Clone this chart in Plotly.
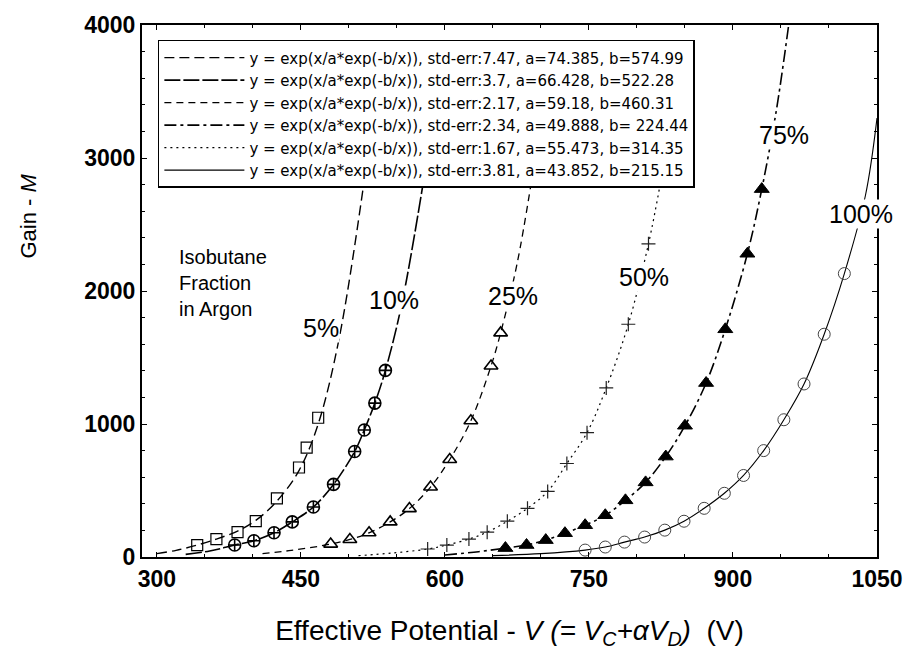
import plotly.graph_objects as go

# ---------------- data ----------------
fit_labels = [
    "y = exp(x/a*exp(-b/x)), std-err:7.47, a=74.385, b=574.99",
    "y = exp(x/a*exp(-b/x)), std-err:3.7, a=66.428, b=522.28",
    "y = exp(x/a*exp(-b/x)), std-err:2.17, a=59.18, b=460.31",
    "y = exp(x/a*exp(-b/x)), std-err:2.34, a=49.888, b= 224.44",
    "y = exp(x/a*exp(-b/x)), std-err:1.67, a=55.473, b=314.35",
    "y = exp(x/a*exp(-b/x)), std-err:3.81, a=43.852, b=215.15",
]

# measured points (V, M)
v5 = [342, 362, 384, 403, 425, 448, 456, 468]
m5 = [90, 135, 187, 269, 441, 673, 822, 1047]
v10 = [381, 401, 422, 441, 463, 484, 506, 516, 527, 538]
m10 = [90, 122, 182, 264, 376, 546, 793, 955, 1157, 1403]
v25 = [481, 501, 521, 543, 563, 585, 605, 627, 648, 658]
m25 = [97, 132, 182, 264, 364, 526, 733, 1024, 1436, 1685]
v50 = [582, 602, 625, 644, 665, 686, 707, 727, 748, 768, 791, 812]
m50 = [60, 90, 135, 187, 269, 366, 493, 703, 935, 1271, 1750, 2355]
v75 = [663, 685, 705, 725, 746, 767, 788, 809, 830, 850, 872, 892, 915, 930]
m75 = [67, 90, 127, 179, 239, 314, 426, 561, 755, 987, 1308, 1712, 2280, 2766]
v100 = [746, 767, 787, 808, 829, 849, 870, 891, 911, 932, 953, 974, 995, 1016]
m100 = [52, 75, 112, 150, 202, 269, 366, 479, 613, 800, 1032, 1301, 1675, 2131]

# fitted curves as traced on the picture (V, M)
cv5 = [300, 320, 342, 362, 384, 403, 425, 448, 468, 490, 516]
cm5 = [25, 50, 90, 135, 195, 275, 420, 650, 1000, 1650, 2834]
cv10 = [330, 355, 381, 401, 422, 441, 463, 484, 506, 516, 527, 538, 555, 578]
cm10 = [20, 45, 90, 122, 182, 264, 376, 546, 793, 955, 1157, 1403, 1900, 2841]
cv25 = [410, 440, 481, 501, 521, 543, 563, 585, 605, 627, 648, 658, 675, 690]
cm25 = [25, 50, 97, 132, 182, 264, 364, 526, 733, 1024, 1436, 1685, 2200, 2819]
cv50 = [510, 545, 582, 602, 625, 644, 665, 686, 707, 727, 748, 768, 791, 812, 825]
cm50 = [10, 30, 60, 90, 135, 187, 269, 366, 493, 703, 935, 1271, 1750, 2355, 2834]
cv75 = [600, 635, 663, 685, 705, 725, 746, 767, 788, 809, 830, 850, 872, 892, 915, 930, 945, 958]
cm75 = [15, 40, 67, 90, 127, 179, 239, 314, 426, 561, 755, 987, 1308, 1712, 2280, 2766, 3350, 4000]
cv100 = [650, 700, 746, 767, 787, 808, 829, 849, 870, 891, 911, 932, 953, 974, 995, 1016, 1038, 1050]
cm100 = [10, 25, 52, 75, 112, 150, 202, 269, 366, 479, 613, 800, 1032, 1301, 1675, 2131, 2720, 3300]

fractions = ["5%", "10%", "25%", "50%", "75%", "100%"]
label_pos_v = [471, 547, 671, 807, 953, 1033]
label_pos_m = [1720, 1936, 1959, 2108, 3170, 2579]

x_ticks = [300, 450, 600, 750, 900, 1050]
y_ticks = [0, 1000, 2000, 3000, 4000]

FONT = "Liberation Sans, Arial, sans-serif"

fig = go.Figure()

curves = [
    (cv5, cm5, fit_labels[0], "10px,5px", 1.4, 1),
    (cv10, cm10, fit_labels[1], "16px,3px", 1.6, 2),
    (cv25, cm25, fit_labels[2], "7px,5px", 1.3, 3),
    (cv75, cm75, fit_labels[3], "12px,4px,3px,4px", 1.6, 4),
    (cv50, cm50, fit_labels[4], "2px,4px", 1.2, 5),
    (cv100, cm100, fit_labels[5], "solid", 1.1, 6),
]
for cx, cy, name, dash, w, rank in curves:
    fig.add_trace(go.Scatter(
        x=cx, y=cy, mode="lines", name=name, legendrank=rank,
        line=dict(color="black", width=w, dash=dash, shape="spline", smoothing=1.0),
        hoverinfo="skip",
    ))

markers = [
    (v5, m5, "square-open", 11, "black", 1.2),
    (v10, m10, "circle-cross-open", 12, "black", 1.6),
    (v25, m25, "triangle-up-open", 12, "black", 1.6),
    (v50, m50, "cross-thin-open", 10, "#222", 1.2),
    (v75, m75, "triangle-up", 13, "black", 1),
    (v100, m100, "circle-open", 12, "#444", 1.0),
]
for mx, my, sym, sz, col, lw in markers:
    fig.add_trace(go.Scatter(
        x=mx, y=my, mode="markers", showlegend=False,
        marker=dict(symbol=sym, size=sz, color=col, line=dict(color=col, width=lw)),
    ))

for t, xv, yv in zip(fractions, label_pos_v, label_pos_m):
    fig.add_annotation(x=xv, y=yv, text=t, showarrow=False,
                       font=dict(family=FONT, size=25, color="black"),
                       bgcolor="white", borderpad=0)

fig.add_annotation(xref="paper", yref="paper", x=0.047, y=0.515,
                   xanchor="left", yanchor="middle", align="left", showarrow=False,
                   text="Isobutane<br>Fraction<br>in Argon",
                   font=dict(family=FONT, size=20, color="black"))

fig.add_annotation(xref="paper", yref="paper", x=-0.155, y=0.64,
                   xanchor="center", yanchor="middle", showarrow=False, textangle=-90,
                   text="Gain - <i>M</i>",
                   font=dict(family=FONT, size=22, color="black"))

fig.update_layout(
    width=915, height=670,
    margin=dict(l=142, r=33, t=22, b=113),
    paper_bgcolor="white", plot_bgcolor="white",
    font=dict(family=FONT, color="black"),
    showlegend=True,
    legend=dict(
        x=0.0216, y=0.972, xanchor="left", yanchor="top",
        bgcolor="white", bordercolor="black", borderwidth=1.5,
        font=dict(family="DejaVu Sans, sans-serif", size=15, color="black"),
        itemwidth=80, tracegroupgap=0,
    ),
    xaxis=dict(
        range=[284.5, 1050], tickvals=x_ticks, ticktext=[str(v) for v in x_ticks],
        showgrid=False, zeroline=False, showline=True, linecolor="black", linewidth=2,
        mirror="ticks", ticks="inside", ticklen=5, tickcolor="black",
        minor=dict(dtick=50, tick0=300, ticks="inside", ticklen=3, tickcolor="black"),
        tickfont=dict(family=FONT, size=23, color="black", weight="bold"),
        title=dict(text="Effective Potential - <i>V</i> <i>(= V<sub>C</sub>+αV<sub>D</sub>)</i>  (V)",
                   font=dict(family=FONT, size=28, color="black"), standoff=30),
    ),
    yaxis=dict(
        range=[0, 4000], tickvals=y_ticks, ticktext=[str(v) for v in y_ticks],
        showgrid=False, zeroline=False, showline=True, linecolor="black", linewidth=2,
        mirror="ticks", ticks="inside", ticklen=5, tickcolor="black",
        minor=dict(dtick=200, ticks="inside", ticklen=3, tickcolor="black"),
        tickfont=dict(family=FONT, size=23, color="black", weight="bold"),
    ),
)

fig.write_html("out.html")
